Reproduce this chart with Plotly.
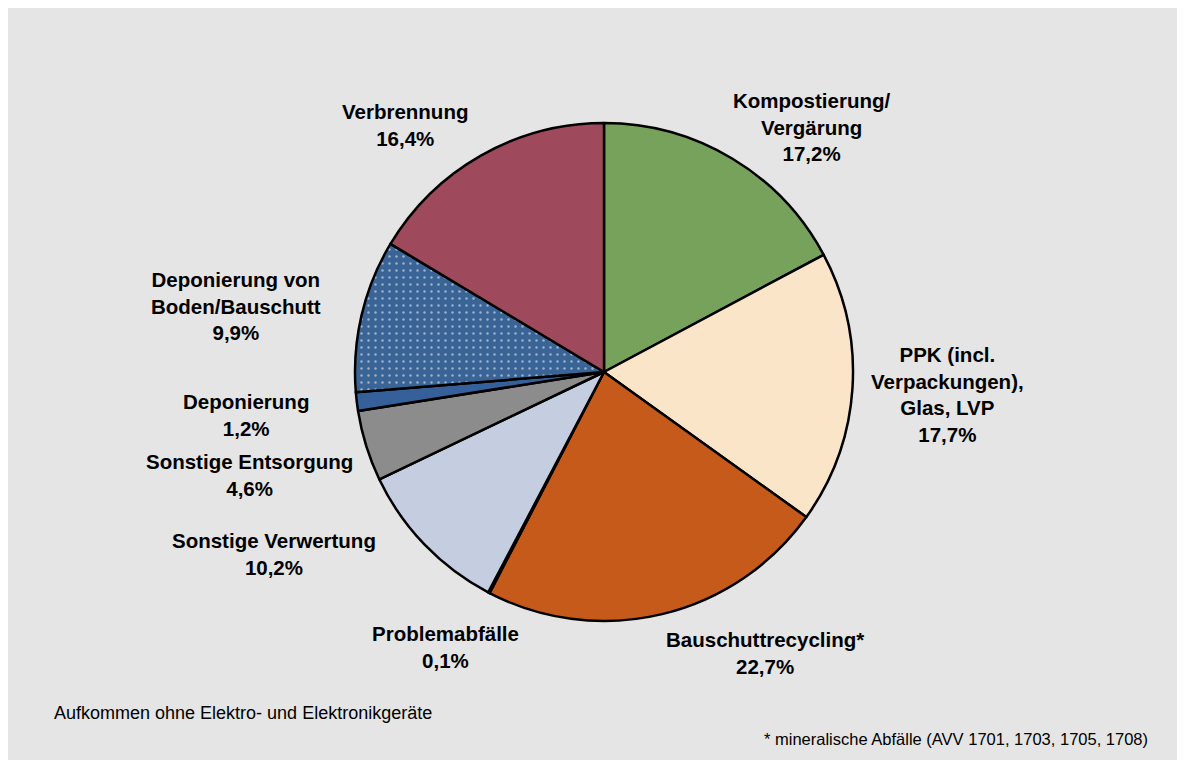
import plotly.graph_objects as go

W, H = 1185, 760
OFF = 8  # page body margin shifts the plot div

labels = ["Kompostierung/<br>Vergärung", "PPK (incl.<br>Verpackungen),<br>Glas, LVP", "Bauschuttrecycling*",
          "Problemabfälle", "Sonstige Verwertung", "Sonstige Entsorgung", "Deponierung",
          "Deponierung von<br>Boden/Bauschutt", "Verbrennung"]
shares = [17.2, 17.7, 22.7, 0.1, 10.2, 4.6, 1.2, 9.9, 16.4]
colors = ["#77a25c", "#fbe5c8", "#c55a1a", "#7f7f7f", "#c5cde0", "#8c8c8c", "#35609a", "#3a6496", "#9e4a5c"]
patterns = ["", "", "", "", "", "", "", ".", ""]

# label anchor points in screen pixels (centre of text block)
label_pos = [(812, 127), (947, 394), (765, 653), (445, 647), (274, 554),
             (250, 475), (246, 415), (236, 306), (405, 125)]


def px_x(x):
    return (x - OFF) / W


def px_y(y):
    return 1 - (y - OFF) / H


cx, cy, r = 604, 372, 249
font = "Liberation Sans, Arial"

fig = go.Figure(go.Pie(
    labels=[l.replace("<br>", " ") for l in labels],
    values=shares,
    sort=False,
    direction="clockwise",
    rotation=0,
    textinfo="none",
    hoverinfo="label+percent",
    marker=dict(
        colors=colors,
        line=dict(color="#000000", width=2.5),
        pattern=dict(shape=patterns, fgcolor="#ffffff", bgcolor=colors, size=7, solidity=0.1, fillmode="overlay"),
    ),
    domain=dict(x=[px_x(cx - r), px_x(cx + r)], y=[px_y(cy + r), px_y(cy - r)]),
    showlegend=False,
))

annotations = []
for lab, val, (x, y) in zip(labels, shares, label_pos):
    txt = "<b>%s<br>%s%%</b>" % (lab, ("%.1f" % val).replace(".", ","))
    annotations.append(dict(x=px_x(x), y=px_y(y), xref="paper", yref="paper", text=txt, showarrow=False,
                            xanchor="center", yanchor="middle", align="center",
                            font=dict(family=font, size=20.5, color="#000000")))

annotations.append(dict(x=px_x(52), y=px_y(713), xref="paper", yref="paper",
                        text="Aufkommen ohne Elektro- und Elektronikgeräte",
                        showarrow=False, xanchor="left", yanchor="middle",
                        font=dict(family=font, size=18, color="#000000")))
annotations.append(dict(x=px_x(1150), y=px_y(739), xref="paper", yref="paper",
                        text="* mineralische Abfälle (AVV 1701, 1703, 1705, 1708)",
                        showarrow=False, xanchor="right", yanchor="middle",
                        font=dict(family=font, size=16.5, color="#000000")))

fig.update_layout(
    width=W, height=H,
    margin=dict(l=0, r=0, t=0, b=0),
    paper_bgcolor="#e5e5e5",
    annotations=annotations,
)

fig.write_html("out.html")
